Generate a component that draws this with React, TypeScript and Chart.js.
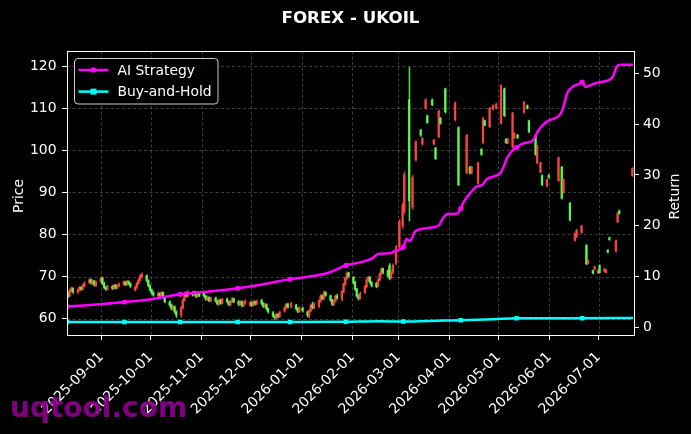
import { useEffect, useRef } from 'react';
import { Chart, registerables } from 'chart.js';

Chart.register(...registerables);

const FONT = '"DejaVu Sans", sans-serif';
const RED = 'rgba(255, 72, 64, 0.88)';
const GREEN = 'rgba(92, 255, 80, 0.88)';
const MAGENTA = '#ff00ff';
const CYAN = '#00ffff';
const GRID = 'rgba(140, 140, 140, 0.55)';

// x values: days since 2025-08-11
const monthTickDays = [21, 51, 82, 112, 143, 174, 202, 233, 263, 294, 324];
const monthTickLabels = [
  '2025-09-01', '2025-10-01', '2025-11-01', '2025-12-01', '2026-01-01', '2026-02-01',
  '2026-03-01', '2026-04-01', '2026-05-01', '2026-06-01', '2026-07-01',
];
const priceTicks = [60, 70, 80, 90, 100, 110, 120];
const returnTicks = [0, 10, 20, 30, 40, 50];

const candleDays = [
  0, 1, 2, 3, 4, 7, 8, 9, 10, 11, 14, 15, 16, 17, 18, 21, 22, 23, 24, 25,
  28, 29, 30, 31, 32, 35, 36, 37, 38, 39, 42, 43, 44, 45, 46, 49, 50, 51, 52, 53,
  56, 57, 58, 59, 60, 63, 64, 65, 66, 67, 70, 71, 72, 73, 74, 77, 78, 79, 80, 81,
  84, 85, 86, 87, 88, 91, 92, 93, 94, 95, 98, 99, 100, 101, 102, 105, 106, 107, 108, 109,
  112, 113, 114, 115, 116, 119, 120, 121, 122, 123, 126, 127, 128, 129, 130,
  133, 134, 135, 137, 140, 141, 142, 144,
  147, 148, 149, 150, 151, 154, 155, 156, 157, 158, 161, 162, 163, 164, 165,
  168, 169, 170, 171, 172, 175, 176, 177, 178, 179, 182, 183, 184, 185, 186,
  189, 190, 191, 192, 193, 196, 197, 198, 199,
  201, 203, 205, 206, 209, 211, 213, 216, 217, 219, 220, 223, 224, 225, 227, 228, 231, 237, 239, 244,
  246, 247, 251, 253, 254, 255, 258, 260, 262, 265, 267, 268, 269, 272, 273, 275, 279, 281, 282, 286,
  287, 289, 290, 293, 294, 300, 302, 303, 307, 310, 311, 314, 317, 318, 321, 322, 324, 325, 328, 329,
  330, 331, 335, 336, 337, 345,
];

const candleOpen = [
  65.6, 66.2, 65.4, 66.6, 67.2, 66.3, 66.8, 67.4, 67.0, 67.9, 68.6, 69.2, 68.5, 68.9, 68.0,
  68.8, 69.6, 68.4, 67.4, 67.0, 67.6, 67.2, 67.9, 67.3, 67.8, 68.2, 68.7, 68.1, 68.8, 68.3,
  66.8, 67.5, 68.4, 69.2, 69.9, 70.2, 69.0, 67.8, 66.8, 66.1, 65.4, 66.0, 65.4, 66.2, 65.0,
  64.0, 63.2, 62.4, 62.8, 61.6, 60.8, 62.6, 64.4, 66.0, 65.4, 66.2, 65.6, 66.3, 65.3, 65.9,
  66.0, 65.3, 64.6, 65.0, 64.3, 64.8, 64.2, 63.5, 64.4, 63.7, 64.6, 64.0, 63.3, 64.0, 64.7,
  64.1, 63.4, 64.0, 63.1, 63.7, 63.2, 63.8, 63.2, 64.0, 63.5, 64.3, 63.6, 62.9, 63.3, 62.3,
  61.4, 60.6, 60.2, 61.0, 60.5,
  61.8, 62.6, 63.4, 62.8, 63.2, 62.4, 61.7, 62.5,
  61.6, 60.8, 61.9, 63.2, 62.6, 63.0, 64.2, 65.4, 64.8, 66.2, 65.4, 64.4, 63.4, 64.2, 65.3,
  64.6, 66.4, 68.2, 69.6, 70.8, 69.8, 68.6, 67.0, 65.4, 64.8, 66.2, 67.6, 69.2, 69.8, 68.6,
  68.4, 67.8, 69.2, 70.6, 71.8, 71.4, 72.6, 69.8, 71.0,
  73.2, 77.0, 82.0, 85.5, 112.0, 86.5, 97.8, 104.8, 101.5, 110.0, 108.2, 112.0, 101.5, 100.5, 103.2, 107.6, 114.6, 107.2, 105.4, 94.6,
  96.0, 94.6, 92.2, 100.2, 101.8, 107.0, 105.6, 109.8, 110.0, 106.4, 114.6, 102.6, 101.8, 100.8, 103.0, 103.6, 109.0, 110.6, 107.0, 103.6,
  97.0, 94.8, 94.0, 91.5, 94.0, 92.8, 96.0, 90.0, 87.4, 78.6, 79.5, 80.5, 77.4, 73.2, 71.4, 71.8, 70.9, 72.6, 71.2, 71.0,
  76.2, 79.2, 76.0, 83.0, 85.6, 94.0,
];

const candleHigh = [
  66.6, 66.5, 67.0, 67.5, 67.4, 67.1, 67.7, 67.6, 68.2, 68.8, 69.5, 69.4, 69.2, 69.1, 68.9,
  69.9, 69.8, 68.6, 67.7, 67.9, 67.9, 68.2, 68.1, 68.1, 68.5, 69.0, 68.9, 69.1, 69.0, 68.5,
  67.8, 68.7, 69.5, 70.5, 70.9, 70.4, 69.2, 68.0, 67.0, 66.4, 66.4, 66.2, 66.5, 66.3, 65.2,
  64.2, 63.5, 63.1, 63.0, 61.9, 62.9, 64.7, 66.3, 66.4, 66.6, 66.5, 66.6, 66.5, 66.2, 66.1,
  66.2, 65.5, 65.3, 65.2, 65.1, 65.1, 64.4, 64.7, 64.6, 64.9, 64.9, 64.2, 64.3, 65.0, 64.9,
  64.3, 64.3, 64.2, 64.0, 64.5, 64.1, 64.0, 64.3, 64.2, 64.4, 64.6, 63.8, 63.6, 63.5, 62.5,
  61.7, 60.9, 61.3, 61.2, 61.8,
  62.9, 63.7, 63.6, 63.9, 63.4, 62.6, 62.8, 62.7,
  61.8, 62.2, 63.5, 63.9, 63.7, 64.5, 65.7, 65.6, 66.6, 66.4, 65.6, 64.6, 64.5, 65.6, 65.8,
  66.7, 68.5, 69.9, 71.1, 71.0, 70.0, 68.8, 67.2, 65.7, 66.3, 67.9, 69.5, 70.1, 70.0, 68.8,
  68.6, 69.5, 70.9, 72.1, 72.0, 71.6, 73.1, 71.2, 73.0,
  77.4, 83.5, 87.5, 94.8, 119.7, 94.0, 102.3, 105.0, 103.0, 112.3, 108.4, 112.2, 102.6, 100.7, 109.6, 107.8, 114.8, 111.5, 105.6, 103.8,
  96.2, 96.2, 97.2, 100.4, 107.8, 107.2, 110.2, 110.8, 111.2, 115.6, 114.8, 102.8, 102.8, 109.0, 104.2, 103.8, 111.6, 110.8, 107.2, 103.8,
  101.2, 97.2, 94.2, 93.2, 94.2, 98.4, 96.2, 93.2, 87.6, 80.4, 81.2, 82.2, 77.6, 74.0, 71.6, 72.5, 71.6, 72.8, 72.0, 71.7,
  76.4, 79.4, 78.7, 85.2, 85.8, 95.9,
];

const candleLow = [
  65.2, 65.0, 65.2, 66.3, 66.0, 66.0, 66.5, 66.7, 66.8, 67.6, 68.3, 68.2, 68.1, 67.7, 67.6,
  68.5, 68.1, 67.1, 66.7, 66.8, 66.9, 67.0, 67.0, 67.1, 67.5, 67.9, 67.8, 67.9, 68.0, 67.4,
  66.5, 67.2, 68.1, 68.9, 69.6, 68.7, 67.5, 66.5, 65.8, 65.3, 65.1, 65.1, 65.2, 64.7, 63.7,
  62.9, 62.1, 62.0, 61.3, 60.2, 60.3, 62.3, 64.1, 65.1, 65.1, 65.3, 65.4, 65.0, 65.1, 65.2,
  65.0, 64.3, 64.3, 64.0, 64.0, 63.9, 63.2, 63.2, 63.4, 63.5, 63.7, 63.0, 63.1, 63.8, 63.8,
  63.1, 63.2, 62.8, 62.9, 63.4, 62.9, 62.9, 63.0, 63.2, 63.3, 63.3, 62.6, 62.6, 62.0, 61.3,
  60.3, 59.8, 59.9, 60.2, 60.3,
  61.5, 62.3, 62.5, 62.5, 62.1, 61.4, 61.5, 61.6,
  60.4, 60.2, 61.6, 62.3, 62.3, 62.6, 63.9, 64.5, 64.5, 65.3, 64.1, 63.1, 63.1, 63.9, 64.6,
  64.2, 66.1, 67.9, 69.3, 69.8, 68.3, 66.7, 65.1, 64.4, 64.6, 65.9, 67.3, 68.9, 68.3, 67.5,
  67.3, 67.6, 68.9, 70.3, 70.7, 69.8, 69.2, 69.5, 70.7,
  72.8, 76.5, 81.5, 85.0, 83.2, 86.0, 97.4, 103.3, 101.2, 109.8, 106.4, 110.6, 101.3, 97.8, 103.0, 106.2, 108.8, 107.0, 91.6, 94.4,
  94.4, 94.4, 92.0, 98.8, 101.6, 105.8, 105.4, 109.6, 109.8, 106.2, 108.0, 101.6, 101.6, 100.6, 102.8, 102.8, 108.8, 109.8, 104.2, 98.8,
  96.8, 94.6, 91.6, 91.3, 93.4, 92.6, 88.4, 89.8, 83.2, 78.4, 79.3, 80.3, 72.8, 73.0, 70.6, 71.6, 70.7, 70.8, 71.0, 70.8,
  75.6, 78.6, 75.8, 82.8, 84.8, 93.8,
];

const candleClose = [
  66.2, 65.4, 66.6, 67.2, 66.4, 66.8, 67.4, 67.0, 67.9, 68.4, 69.2, 68.5, 68.9, 68.0, 68.6,
  69.6, 68.4, 67.4, 67.0, 67.6, 67.2, 67.9, 67.3, 67.8, 68.2, 68.7, 68.1, 68.8, 68.3, 67.7,
  67.5, 68.4, 69.2, 70.2, 70.5, 69.0, 67.8, 66.8, 66.1, 65.6, 66.0, 65.4, 66.2, 65.0, 64.0,
  63.2, 62.4, 62.8, 61.6, 60.8, 62.6, 64.4, 66.0, 65.4, 66.2, 65.6, 66.3, 65.3, 65.9, 65.5,
  65.3, 64.6, 65.0, 64.3, 64.8, 64.2, 63.5, 64.4, 63.7, 64.6, 64.0, 63.3, 64.0, 64.7, 64.1,
  63.4, 64.0, 63.1, 63.7, 64.2, 63.8, 63.2, 64.0, 63.5, 64.1, 63.6, 62.9, 63.3, 62.3, 61.6,
  60.6, 60.2, 61.0, 60.5, 61.4,
  62.6, 63.4, 62.8, 63.6, 62.4, 61.7, 62.5, 61.9,
  60.8, 61.9, 63.2, 62.6, 63.4, 64.2, 65.4, 64.8, 66.2, 65.6, 64.4, 63.4, 64.2, 65.3, 64.9,
  66.4, 68.2, 69.6, 70.8, 70.1, 68.6, 67.0, 65.4, 64.8, 66.0, 67.6, 69.2, 69.8, 68.6, 67.8,
  67.6, 69.2, 70.6, 71.8, 71.0, 70.2, 69.6, 70.9, 72.6,
  77.0, 83.0, 87.0, 94.2, 88.0, 93.5, 102.0, 103.6, 102.8, 112.0, 106.6, 110.8, 102.4, 98.0, 109.3, 106.4, 109.2, 111.2, 91.8, 103.5,
  94.6, 96.0, 97.0, 99.0, 107.6, 106.0, 110.0, 110.6, 111.0, 115.4, 108.2, 101.8, 102.6, 108.8, 104.0, 103.0, 111.4, 110.0, 104.4, 99.0,
  101.0, 97.0, 91.8, 93.0, 93.6, 98.2, 88.6, 93.0, 83.4, 80.2, 81.0, 82.0, 73.0, 73.8, 70.8, 72.3, 71.4, 71.0, 71.8, 71.5,
  75.8, 78.8, 78.5, 85.0, 85.0, 95.7,
];

const aiDays = [
  0, 14, 35, 50, 69, 85, 104, 120, 136, 150, 160, 170, 180, 186, 190, 197, 201, 203, 205, 207,
  209, 212, 215, 223, 227, 229, 232, 238, 240, 242, 246, 250, 253, 256, 262, 264, 266, 268, 272, 274,
  278, 284, 287, 290, 293, 300, 302, 305, 309, 312, 314, 316, 320, 324, 331, 333, 335, 337, 345,
];
const aiValues = [
  4.1, 4.4, 5.0, 5.5, 6.5, 7.0, 7.7, 8.5, 9.5, 10.1, 10.8, 12.2, 12.9, 13.6, 14.5, 14.6, 15.2, 15.3, 15.8, 17.4,
  17.0, 18.8, 19.3, 19.7, 20.2, 21.4, 22.3, 22.4, 23.4, 24.8, 26.5, 27.8, 28.0, 29.2, 29.9, 30.3, 31.5, 33.2, 35.0, 35.4,
  36.2, 36.8, 38.6, 39.8, 40.6, 41.7, 42.8, 46.2, 47.5, 47.9, 48.3, 47.3, 47.8, 48.2, 48.8, 49.5, 51.3, 51.7, 51.7,
];

const bhDays = [0, 35, 69, 104, 136, 170, 190, 205, 230, 240, 260, 274, 314, 345];
const bhValues = [1.05, 1.05, 1.05, 1.05, 1.05, 1.1, 1.2, 1.15, 1.35, 1.4, 1.6, 1.8, 1.8, 1.85];

const markerDays = [0, 35, 69, 104, 136, 170, 205, 240, 274, 314];

function candleColor(ctx: any) {
  const i = ctx.dataIndex;
  if (i === undefined) return RED;
  return candleClose[i] >= candleOpen[i] ? RED : GREEN;
}

function roundRect(ctx: CanvasRenderingContext2D, x: number, y: number, w: number, h: number, r: number) {
  ctx.beginPath();
  ctx.moveTo(x + r, y);
  ctx.lineTo(x + w - r, y);
  ctx.arcTo(x + w, y, x + w, y + r, r);
  ctx.lineTo(x + w, y + h - r);
  ctx.arcTo(x + w, y + h, x + w - r, y + h, r);
  ctx.lineTo(x + r, y + h);
  ctx.arcTo(x, y + h, x, y + h - r, r);
  ctx.lineTo(x, y + r);
  ctx.arcTo(x, y, x + r, y, r);
  ctx.closePath();
}

const decorPlugin = {
  id: 'decor',
  beforeDraw(chart: any) {
    const { ctx, width, height } = chart;
    ctx.save();
    ctx.fillStyle = '#000';
    ctx.fillRect(0, 0, width, height);
    ctx.restore();
  },
  beforeDatasetsDraw(chart: any) {
    const { ctx, chartArea: a, scales } = chart;
    ctx.save();
    ctx.strokeStyle = GRID;
    ctx.lineWidth = 0.8;
    ctx.setLineDash([3, 2.5]);
    ctx.beginPath();
    monthTickDays.forEach((d) => {
      const x = Math.round(scales.x.getPixelForValue(d)) + 0.5;
      ctx.moveTo(x, a.top);
      ctx.lineTo(x, a.bottom);
    });
    priceTicks.forEach((v) => {
      const y = Math.round(scales.y.getPixelForValue(v)) + 0.5;
      ctx.moveTo(a.left, y);
      ctx.lineTo(a.right, y);
    });
    ctx.stroke();
    ctx.restore();
  },
  afterDraw(chart: any) {
    const { ctx, chartArea: a } = chart;
    ctx.save();
    // frame
    ctx.strokeStyle = '#ffffff';
    ctx.lineWidth = 1;
    ctx.setLineDash([]);
    ctx.strokeRect(Math.round(a.left) + 0.5, Math.round(a.top) + 0.5, Math.round(a.right - a.left), Math.round(a.bottom - a.top));

    // title
    ctx.fillStyle = '#ffffff';
    ctx.font = `bold 16.7px ${FONT}`;
    ctx.textAlign = 'center';
    ctx.textBaseline = 'alphabetic';
    ctx.fillText('FOREX - UKOIL', (a.left + a.right) / 2, 23.3);

    // axis titles
    ctx.font = `13.9px ${FONT}`;
    ctx.save();
    ctx.translate(23.3, 196);
    ctx.rotate(-Math.PI / 2);
    ctx.fillText('Price', 0, 0);
    ctx.restore();
    ctx.save();
    ctx.translate(678.5, 196.5);
    ctx.rotate(-Math.PI / 2);
    ctx.fillText('Return', 0, 0);
    ctx.restore();

    // legend
    const lx = 74.5, ly = 58.5, lw = 143.5, lh = 45.5;
    roundRect(ctx, lx, ly, lw, lh, 3.5);
    ctx.fillStyle = 'rgba(0,0,0,0.8)';
    ctx.fill();
    ctx.strokeStyle = '#cccccc';
    ctx.lineWidth = 1;
    ctx.stroke();

    const rows = [
      { label: 'AI Strategy', color: MAGENTA, y: 70, marker: 'circle' },
      { label: 'Buy-and-Hold', color: CYAN, y: 91.6, marker: 'rect' },
    ];
    rows.forEach((r) => {
      ctx.strokeStyle = r.color;
      ctx.lineWidth = 2.5;
      ctx.beginPath();
      ctx.moveTo(78.5, r.y);
      ctx.lineTo(108.5, r.y);
      ctx.stroke();
      ctx.fillStyle = r.color;
      if (r.marker === 'circle') {
        ctx.beginPath();
        ctx.arc(93.5, r.y, 2.8, 0, Math.PI * 2);
        ctx.fill();
      } else {
        ctx.fillRect(90.5, r.y - 3, 6, 6);
      }
      ctx.fillStyle = '#ffffff';
      ctx.font = `13.9px ${FONT}`;
      ctx.textAlign = 'left';
      ctx.textBaseline = 'alphabetic';
      ctx.fillText(r.label, 117.5, r.y + 4.6);
    });

    // watermark
    ctx.fillStyle = 'rgba(140, 0, 140, 0.92)';
    ctx.font = `bold 28px ${FONT}`;
    ctx.textAlign = 'left';
    ctx.textBaseline = 'alphabetic';
    ctx.fillText('uqtool.com', 10, 417);
    ctx.restore();
  },
};

export default function App() {
  const ref = useRef<HTMLCanvasElement | null>(null);

  useEffect(() => {
    document.body.style.margin = '0';
    document.body.style.background = '#000';
    if (!ref.current) return;

    const wickData = candleDays.map((d, i) => ({ x: d, y: [candleLow[i], candleHigh[i]] }));
    const bodyData = candleDays.map((d, i) => ({ x: d, y: [candleOpen[i], candleClose[i]] }));
    const aiData = aiDays.map((d, i) => ({ x: d, y: aiValues[i] }));
    const bhData = bhDays.map((d, i) => ({ x: d, y: bhValues[i] }));

    const markerRadius = (r: number) => (ctx: any) =>
      ctx.raw && markerDays.includes(ctx.raw.x) ? r : 0;

    const tickFont = { family: FONT, size: 13.9 };

    const chart = new Chart(ref.current, {
      type: 'bar',
      data: {
        datasets: [
          {
            type: 'line',
            label: 'AI Strategy',
            data: aiData,
            yAxisID: 'y1',
            borderColor: MAGENTA,
            backgroundColor: MAGENTA,
            borderWidth: 2.5,
            pointRadius: markerRadius(2.6),
            pointStyle: 'circle',
            pointBorderWidth: 0,
            pointBackgroundColor: MAGENTA,
            cubicInterpolationMode: 'monotone',
            order: 0,
          } as any,
          {
            type: 'line',
            label: 'Buy-and-Hold',
            data: bhData,
            yAxisID: 'y1',
            borderColor: CYAN,
            backgroundColor: CYAN,
            borderWidth: 2.5,
            pointRadius: markerRadius(3.2),
            pointStyle: 'rect',
            pointBorderWidth: 0,
            pointBackgroundColor: CYAN,
            cubicInterpolationMode: 'monotone',
            order: 0,
          } as any,
          {
            type: 'bar',
            label: 'wick',
            data: wickData,
            yAxisID: 'y',
            backgroundColor: candleColor,
            borderWidth: 0,
            barThickness: 0.9,
            stack: 'candle',
            grouped: true,
            order: 2,
          } as any,
          {
            type: 'bar',
            label: 'body',
            data: bodyData,
            yAxisID: 'y',
            backgroundColor: candleColor,
            borderWidth: 0,
            barThickness: 1.6,
            stack: 'candle',
            grouped: true,
            order: 1,
          } as any,
        ],
      },
      options: {
        responsive: false,
        animation: false,
        events: [],
        layout: { padding: { top: 51, left: 0, right: 0, bottom: 0 } },
        plugins: {
          legend: { display: false },
          tooltip: { enabled: false },
          title: { display: false },
        },
        scales: {
          x: {
            type: 'linear',
            min: 0,
            max: 345.6,
            offset: false,
            stacked: false,
            grid: {
              display: true,
              drawOnChartArea: false,
              drawTicks: true,
              tickLength: 5,
              tickColor: '#ffffff',
              tickWidth: 1,
              offset: false,
              color: '#ffffff',
            },
            border: { display: false },
            ticks: {
              color: '#ffffff',
              font: tickFont,
              autoSkip: false,
              minRotation: 45,
              maxRotation: 45,
              padding: 9,
              callback: (v: any) => {
                const i = monthTickDays.indexOf(Number(v));
                return i >= 0 ? monthTickLabels[i] : '';
              },
            },
            afterBuildTicks: (s: any) => {
              s.ticks = monthTickDays.map((v) => ({ value: v }));
            },
            afterFit: (s: any) => {
              s.height = 99;
            },
          },
          y: {
            type: 'linear',
            position: 'left',
            min: 56.1,
            max: 123.6,
            stacked: false,
            grid: {
              display: true,
              drawOnChartArea: false,
              drawTicks: true,
              tickLength: 5,
              tickColor: '#ffffff',
              color: '#ffffff',
            },
            border: { display: false },
            ticks: { color: '#ffffff', font: tickFont, padding: 5.5 },
            afterBuildTicks: (s: any) => {
              s.ticks = priceTicks.map((v) => ({ value: v }));
            },
            afterFit: (s: any) => {
              s.width = 67;
            },
          },
          y1: {
            type: 'linear',
            position: 'right',
            min: -1.5,
            max: 54.4,
            stacked: false,
            grid: {
              display: true,
              drawOnChartArea: false,
              drawTicks: true,
              tickLength: 5,
              tickColor: '#ffffff',
              color: '#ffffff',
            },
            border: { display: false },
            ticks: { color: '#ffffff', font: tickFont, padding: 4 },
            afterBuildTicks: (s: any) => {
              s.ticks = returnTicks.map((v) => ({ value: v }));
            },
            afterFit: (s: any) => {
              s.width = 57;
            },
          },
        },
      } as any,
      plugins: [decorPlugin],
    });

    return () => chart.destroy();
  }, []);

  return (
    <div style={{ width: 691, height: 434, background: '#000' }}>
      <canvas ref={ref} width={691} height={434} style={{ display: 'block', width: 691, height: 434 }} />
    </div>
  );
}
